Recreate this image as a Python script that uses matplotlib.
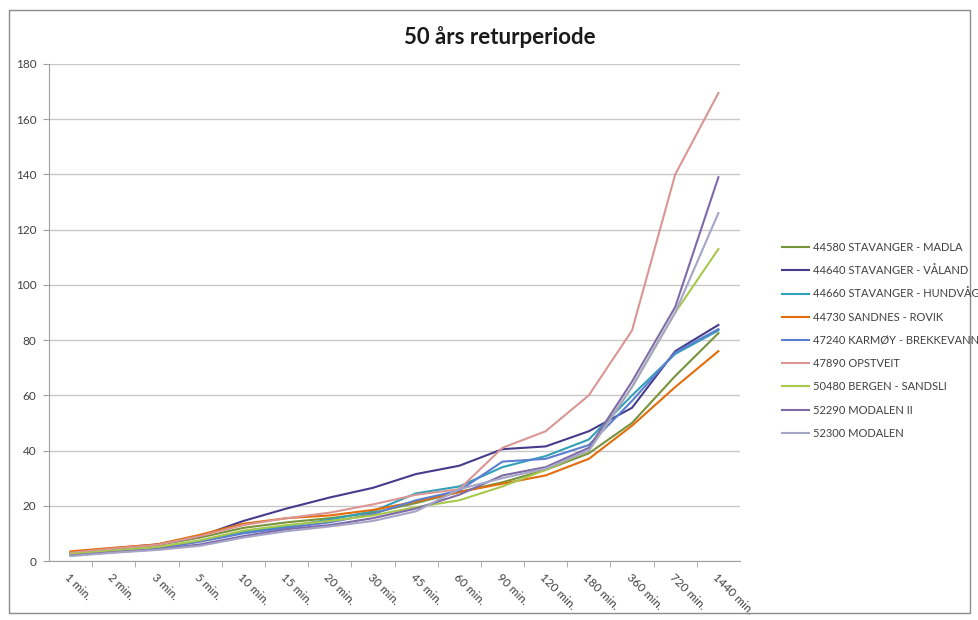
import matplotlib
matplotlib.use("Agg")
import matplotlib.pyplot as plt
from matplotlib.patches import Rectangle

# Duration categories on the x axis
durations = ["1 min.", "2 min.", "3 min.", "5 min.", "10 min.", "15 min.", "20 min.",
             "30 min.", "45 min.", "60 min.", "90 min.", "120 min.", "180 min.",
             "360 min.", "720 min.", "1440 min."]

# 50-year return period precipitation per station (mm)
madla = [3.0, 4.4, 5.7, 8.5, 12.0, 14.0, 15.5, 17.5, 21.0, 25.0, 28.5, 33.0, 39.0, 50.0, 67.0, 82.5]
valand = [3.2, 4.6, 6.0, 9.0, 14.5, 19.0, 23.0, 26.5, 31.5, 34.5, 40.5, 41.5, 47.0, 55.5, 76.0, 85.5]
hundvag = [2.5, 3.7, 4.8, 7.2, 10.5, 12.5, 15.0, 18.0, 24.5, 27.0, 34.0, 38.0, 44.0, 60.0, 75.0, 83.5]
sandnes = [3.5, 4.8, 6.0, 9.5, 13.5, 15.5, 16.5, 18.5, 21.5, 25.0, 28.0, 31.0, 37.0, 49.0, 63.0, 76.0]
karmoy = [2.3, 3.5, 4.5, 7.0, 10.0, 12.0, 14.0, 17.0, 22.0, 25.5, 36.0, 37.0, 42.0, 58.0, 75.5, 84.0]
opstveit = [3.0, 4.5, 5.8, 9.0, 13.0, 15.5, 17.5, 20.5, 24.0, 26.0, 41.0, 47.0, 60.0, 83.5, 140.0, 169.5]
bergen = [2.5, 3.8, 5.0, 7.5, 11.0, 13.0, 14.5, 16.5, 19.5, 22.0, 27.0, 33.0, 40.0, 63.0, 90.0, 113.0]
modalen2 = [2.0, 3.2, 4.2, 6.0, 9.0, 11.5, 13.0, 15.5, 19.0, 24.0, 31.0, 34.0, 41.0, 65.0, 92.0, 139.0]
modalen = [1.8, 3.0, 4.0, 5.5, 8.5, 10.8, 12.5, 14.5, 18.0, 26.0, 30.0, 33.5, 40.0, 63.0, 90.0, 126.0]

station_names = ["44580 STAVANGER - MADLA", "44640 STAVANGER - VÅLAND",
                 "44660 STAVANGER - HUNDVÅG", "44730 SANDNES - ROVIK",
                 "47240 KARMØY - BREKKEVANN", "47890 OPSTVEIT",
                 "50480 BERGEN - SANDSLI", "52290 MODALEN II", "52300 MODALEN"]
series = [madla, valand, hundvag, sandnes, karmoy, opstveit, bergen, modalen2, modalen]
colors = ["#77933C", "#453C8C", "#31A0B8", "#E46C0A", "#5B7FD0",
          "#D99694", "#A8C84C", "#7F6AA8", "#A5A5C8"]

plt.rcParams["font.family"] = ["Lato", "DejaVu Sans"]

fig = plt.figure(figsize=(9.79, 6.2), dpi=100)
fig.patches.append(Rectangle((9 / 979, 7 / 620), 961 / 979, 603 / 620,
                             transform=fig.transFigure, fill=False,
                             edgecolor="#8C8C8C", linewidth=1.0))

ax = fig.add_axes([49 / 979, 1 - 561 / 620, (740 - 49) / 979, (561 - 64) / 620])

x = list(range(len(durations)))
for name, vals, col in zip(station_names, series, colors):
    ax.plot(x, vals, color=col, linewidth=1.5, label=name)

ax.set_xlim(-0.5, len(durations) - 0.5)
ax.set_ylim(0, 180)
ax.set_yticks(range(0, 181, 20))
ax.yaxis.grid(True, color="#C8C8C8", linewidth=1.0)
ax.set_axisbelow(True)

ax.set_xticks([i + 0.5 for i in range(len(durations) - 1)], minor=True)
ax.set_xticks(x)
ax.set_xticklabels(durations, rotation=-45, ha="left", va="top",
                   rotation_mode="anchor", fontsize=8.5, color="#404040")
ax.tick_params(axis="x", which="major", length=0, pad=8)
ax.tick_params(axis="x", which="minor", length=4, color="#A0A0A0")
ax.tick_params(axis="y", length=4, color="#A0A0A0", labelsize=8.5,
               labelcolor="#404040", pad=5)

for side in ("top", "right"):
    ax.spines[side].set_visible(False)
for side in ("left", "bottom"):
    ax.spines[side].set_color("#A0A0A0")

fig.text(0.511, 1 - 37 / 620, "50 års returperiode", ha="center", va="center",
         fontsize=16, fontweight="bold", color="#1A1A1A")

fig.legend(loc="upper left", bbox_to_anchor=(772 / 979, 1 - 232 / 620),
           frameon=False, fontsize=8, handlelength=2.4, handletextpad=0.4,
           labelspacing=1.1, labelcolor="#404040")

fig.savefig("out.png", dpi=100)
